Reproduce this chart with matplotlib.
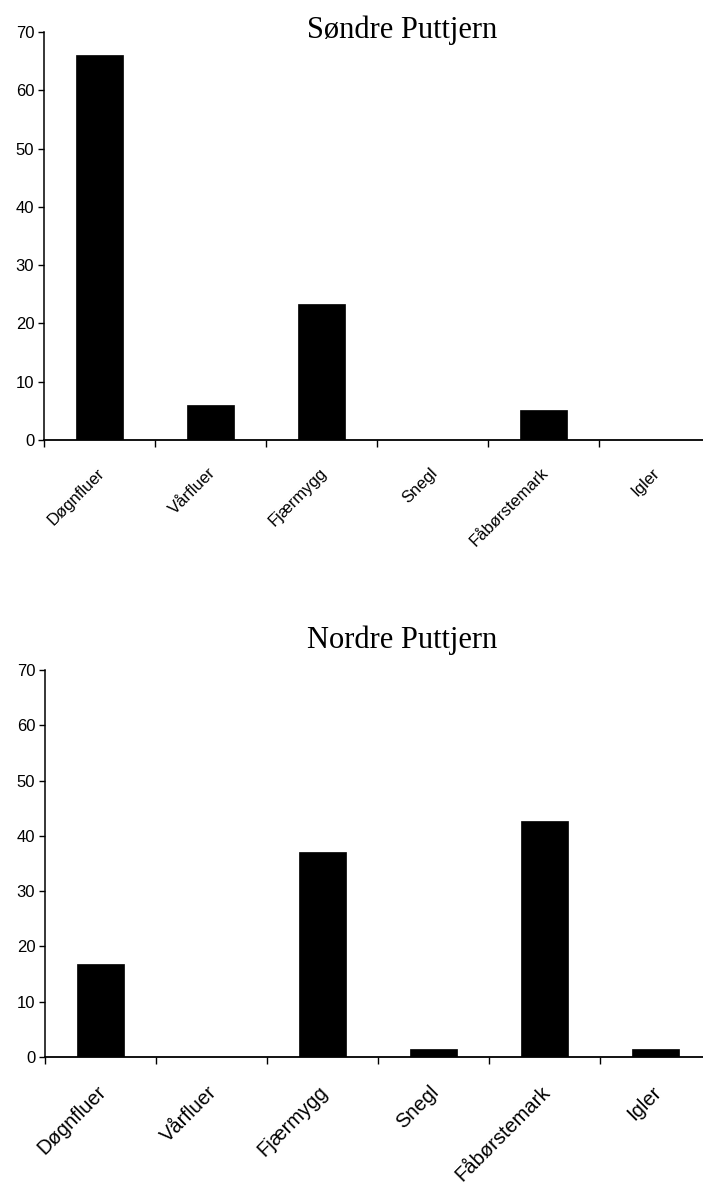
import matplotlib
matplotlib.use("Agg")
import matplotlib.pyplot as plt

# Data (per cent of stomach content)
categories = ["Døgnfluer", "Vårfluer", "Fjærmygg", "Snegl", "Fåbørstemark", "Igler"]
sondre = [66.0, 6.0, 23.4, 0.0, 5.2, 0.0]
nordre = [16.8, 0.0, 37.1, 1.5, 42.6, 1.4]
titles = ["Søndre Puttjern", "Nordre Puttjern"]
yticks = [0, 10, 20, 30, 40, 50, 60, 70]

W, H = 703, 1187
fig = plt.figure(figsize=(W / 100, H / 100), dpi=100)

sans = "Liberation Sans"
serif = "Liberation Serif"


def panel(rect, values, title, title_y, xlab_size, lab_pad):
    ax = fig.add_axes(rect)
    x = range(len(categories))
    ax.bar(x, values, width=0.42, color="black", edgecolor="black", linewidth=0.5)
    ax.set_xlim(-0.5, len(categories) - 0.5)
    ax.set_ylim(0, 70)
    ax.set_yticks(yticks)
    ax.set_yticklabels([str(t) for t in yticks], fontsize=12, family=sans)
    ax.tick_params(axis="y", direction="out", length=4, width=1, pad=3)

    # tick marks sit between categories, Excel style
    ax.set_xticks([i - 0.5 for i in range(len(categories) + 1)])
    ax.set_xticklabels([])
    ax.tick_params(axis="x", direction="out", length=5, width=1)
    for i, name in enumerate(categories):
        ax.annotate(name, xy=(i, 0), xycoords="data",
                    xytext=(2, -lab_pad), textcoords="offset points",
                    rotation=45, rotation_mode="anchor",
                    ha="right", va="center", fontsize=xlab_size, family=sans)

    for side in ["top", "right"]:
        ax.spines[side].set_visible(False)
    ax.spines["left"].set_linewidth(1.1)
    ax.spines["bottom"].set_linewidth(1.3)

    fig.text(402 / W, 1 - title_y / H, title, ha="center", va="center",
             fontsize=22, family=serif)
    return ax


top_rect = [44 / W, 1 - 440 / H, (710 - 44) / W, (440 - 32) / H]
bot_rect = [45 / W, 1 - 1057 / H, (711 - 45) / W, (1057 - 670) / H]

panel(top_rect, sondre, titles[0], 30, 12, 22)
panel(bot_rect, nordre, titles[1], 640, 14.5, 23)

fig.savefig("out.png", dpi=100)
